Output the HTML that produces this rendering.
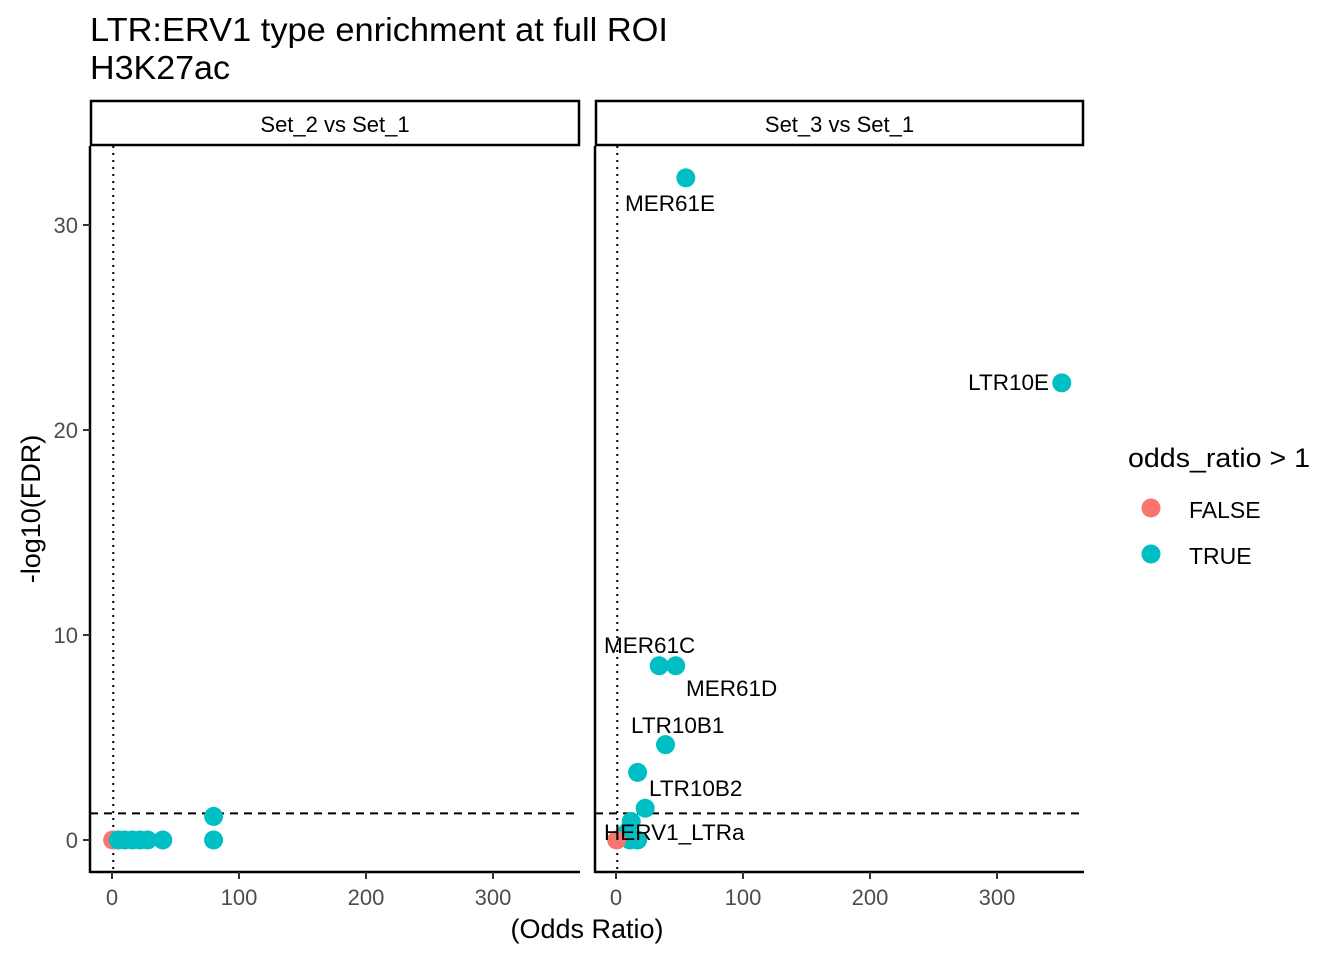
<!DOCTYPE html>
<html><head><meta charset="utf-8"><style>
body{margin:0;background:#fff}
svg text{font-family:"Liberation Sans",Arial,sans-serif}
</style></head><body>
<svg id="chart" width="1344" height="960" xmlns="http://www.w3.org/2000/svg">
<rect width="1344" height="960" fill="#fff"/>
<text x="90" y="41" font-size="33" textLength="578" lengthAdjust="spacingAndGlyphs">LTR:ERV1 type enrichment at full ROI</text>
<text x="90" y="79" font-size="33" textLength="140" lengthAdjust="spacingAndGlyphs">H3K27ac</text>
<text transform="translate(40,509) rotate(-90)" text-anchor="middle" font-size="27">-log10(FDR)</text>
<text x="587" y="938" text-anchor="middle" font-size="27">(Odds Ratio)</text>
<g>
<text x="1128" y="467" font-size="27" textLength="182" lengthAdjust="spacingAndGlyphs">odds_ratio &gt; 1</text>
<circle cx="1151" cy="508" r="9.5" fill="#F8766D"/>
<text x="1189" y="518" font-size="23">FALSE</text>
<circle cx="1151" cy="554" r="9.5" fill="#00BFC4"/>
<text x="1189" y="564" font-size="23">TRUE</text>
</g>
</svg>
<script>
const panelTitles=["Set_2 vs Set_1","Set_3 vs Set_1"];
const p1x=[0.5,5,10,16,22,28,40,80,80];
const p1y=[0,0,0,0,0,0,0,1.15,0];
const p1t=[false,true,true,true,true,true,true,true,true];
const p2x=[55,351,34,47,39,17,23,12,9,17,11,0.5];
const p2y=[32.3,22.3,8.5,8.5,4.65,3.3,1.55,0.9,0.4,0,0,0];
const p2t=[true,true,true,true,true,true,true,true,true,true,true,false];
const p2labels=[["MER61E",55,32.3,625,211,"start"],["LTR10E",351,22.3,1049,390,"end"],["MER61C",34,8.5,604,653,"start"],["MER61D",47,8.5,686,696,"start"],["LTR10B1",39,4.65,631,733,"start"],["LTR10B2",23,1.55,649,796,"start"],["HERV1_LTRa",9,0.4,604,840,"start"]];
const xTicks=[0,100,200,300];
const yTicks=[0,10,20,30];
const fdrLine=1.301, orLine=1;
const svg=document.getElementById('chart');
const NS="http://www.w3.org/2000/svg";
const panels=[{x0:90,x1:580,xs:x=>112+x*1.27},{x0:595,x1:1084,xs:x=>616+x*1.27}];
const ys=v=>840-v*20.5;
function el(t,a,p){const e=document.createElementNS(NS,t);for(const k in a)e.setAttribute(k,a[k]);(p||svg).appendChild(e);return e;}
panels.forEach((p,i)=>{
 const g=el('g',{});
 
 
 const s=el('rect',{x:p.x0+1,y:101,width:p.x1-p.x0-2,height:44,fill:'#fff',stroke:'#000','stroke-width':2.5},g);
 
 
 const st=el('text',{x:(p.x0+p.x1)/2,y:132,'text-anchor':'middle','font-size':22},g);st.textContent=panelTitles[i];
 
 
 el('line',{x1:p.x0,y1:146,x2:p.x0,y2:873,stroke:'#000','stroke-width':2.5},g);
 el('line',{x1:p.x0,y1:872,x2:p.x1,y2:872,stroke:'#000','stroke-width':2.5},g);
 xTicks.forEach(t=>{const x=p.xs(t);el('line',{x1:x,y1:872,x2:x,y2:879,stroke:'#333','stroke-width':2},g);
  const tx=el('text',{x:x,y:905,'text-anchor':'middle','font-size':22,fill:'#4d4d4d'},g);tx.textContent=t;
  
  });
 if(i==0)yTicks.forEach(t=>{const y=ys(t);el('line',{x1:83,y1:y,x2:90,y2:y,stroke:'#333','stroke-width':2},g);
  const ty=el('text',{x:78,y:y+8,'text-anchor':'end','font-size':22,fill:'#4d4d4d'},g);ty.textContent=t;
  
  });
 el('line',{x1:p.x0,y1:ys(fdrLine),x2:p.x1,y2:ys(fdrLine),stroke:'#000','stroke-width':2,'stroke-dasharray':'8,6'},g);
 el('line',{x1:p.xs(orLine),y1:146,x2:p.xs(orLine),y2:872,stroke:'#000','stroke-width':2,'stroke-dasharray':'2,5'},g);
 const X=i?p2x:p1x,Y=i?p2y:p1y,T=i?p2t:p1t;
 X.forEach((v,j)=>{const c=el('circle',{cx:p.xs(v),cy:ys(Y[j]),r:9.5,fill:T[j]?'#00BFC4':'#F8766D'},g);
  
  });
 if(i==1)p2labels.forEach(l=>{const t=el('text',{x:l[3],y:l[4],'text-anchor':l[5],'font-size':22.5},g);t.textContent=l[0];
  
  });
});
</script>
</body></html>
